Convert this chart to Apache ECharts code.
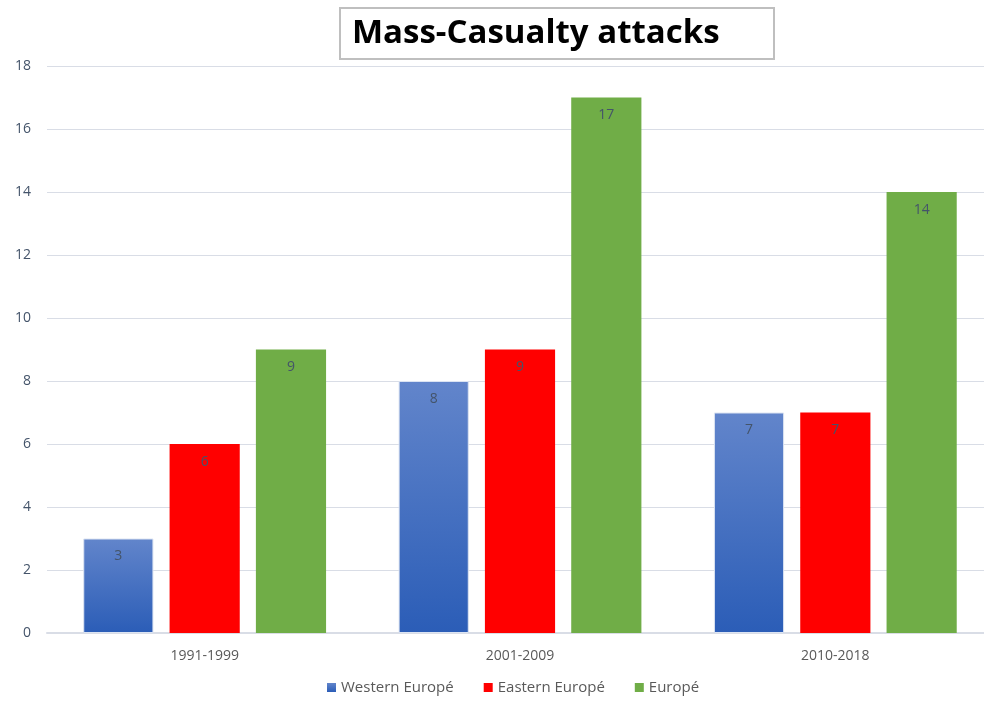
<!DOCTYPE html>
<html>
<head>
<meta charset="utf-8">
<script src="https://cdn.jsdelivr.net/npm/echarts@6/dist/echarts.min.js"></script>
<style>
  html, body { margin: 0; padding: 0; background: #fff; }
  #main { width: 984px; height: 707px; }
</style>
</head>
<body>
<div id="main"></div>
<script>
var categories = ['1991-1999', '2001-2009', '2010-2018'];
var westernEurope = [3, 8, 7];
var easternEurope = [6, 9, 7];
var europe = [9, 17, 14];
var seriesNames = ['Western Europé', 'Eastern Europé', 'Europé'];

var chart = echarts.init(document.getElementById('main'));

var labelStyle = {
  show: true,
  position: 'insideTop',
  distance: 11,
  color: '#44546a',
  fontSize: 14,
  fontFamily: 'Open Sans'
};

chart.setOption({
  animation: false,
  title: {
    text: 'Mass-Casualty attacks',
    left: 340,
    top: 8,
    padding: [9, 55, 9, 12],
    borderColor: '#bfbfbf',
    borderWidth: 2,
    textStyle: {
      color: '#000',
      fontSize: 33,
      fontWeight: 'bold',
      fontFamily: 'Open Sans'
    }
  },
  legend: {
    bottom: 7,
    left: 322,
    itemWidth: 9,
    itemHeight: 9,
    itemGap: 30,
    icon: 'rect',
    itemStyle: { borderWidth: 0 },
    textStyle: { color: '#595959', fontSize: 15, fontFamily: 'Open Sans' },
    data: seriesNames
  },
  grid: {
    left: 47,
    top: 66,
    width: 946,
    height: 567,
    outerBoundsMode: 'none',
    containLabel: false
  },
  xAxis: {
    type: 'category',
    data: categories,
    axisTick: { show: false },
    axisLine: { lineStyle: { color: '#d9dde6', width: 2 } },
    axisLabel: { color: '#595959', fontSize: 14, margin: 16, fontFamily: 'Open Sans' }
  },
  yAxis: {
    type: 'value',
    min: 0,
    max: 18,
    interval: 2,
    axisLine: { show: false },
    axisTick: { show: false },
    axisLabel: { color: '#44546a', fontSize: 14, margin: 16, fontFamily: 'Open Sans' },
    splitLine: { lineStyle: { color: '#d9dde6', width: 1 } }
  },
  series: [
    {
      name: seriesNames[0],
      type: 'bar',
      data: westernEurope,
      barGap: '23%',
      barCategoryGap: '23%',
      itemStyle: {
        color: new echarts.graphic.LinearGradient(0, 0, 0, 1, [
          { offset: 0, color: '#6285cb' },
          { offset: 1, color: '#2b5db7' }
        ]),
        borderColor: '#dce4f2',
        borderWidth: 1
      },
      label: labelStyle
    },
    {
      name: seriesNames[1],
      type: 'bar',
      data: easternEurope,
      itemStyle: { color: '#ff0000' },
      label: labelStyle
    },
    {
      name: seriesNames[2],
      type: 'bar',
      data: europe,
      itemStyle: { color: '#70ad47' },
      label: labelStyle
    }
  ]
});
</script>
</body>
</html>
